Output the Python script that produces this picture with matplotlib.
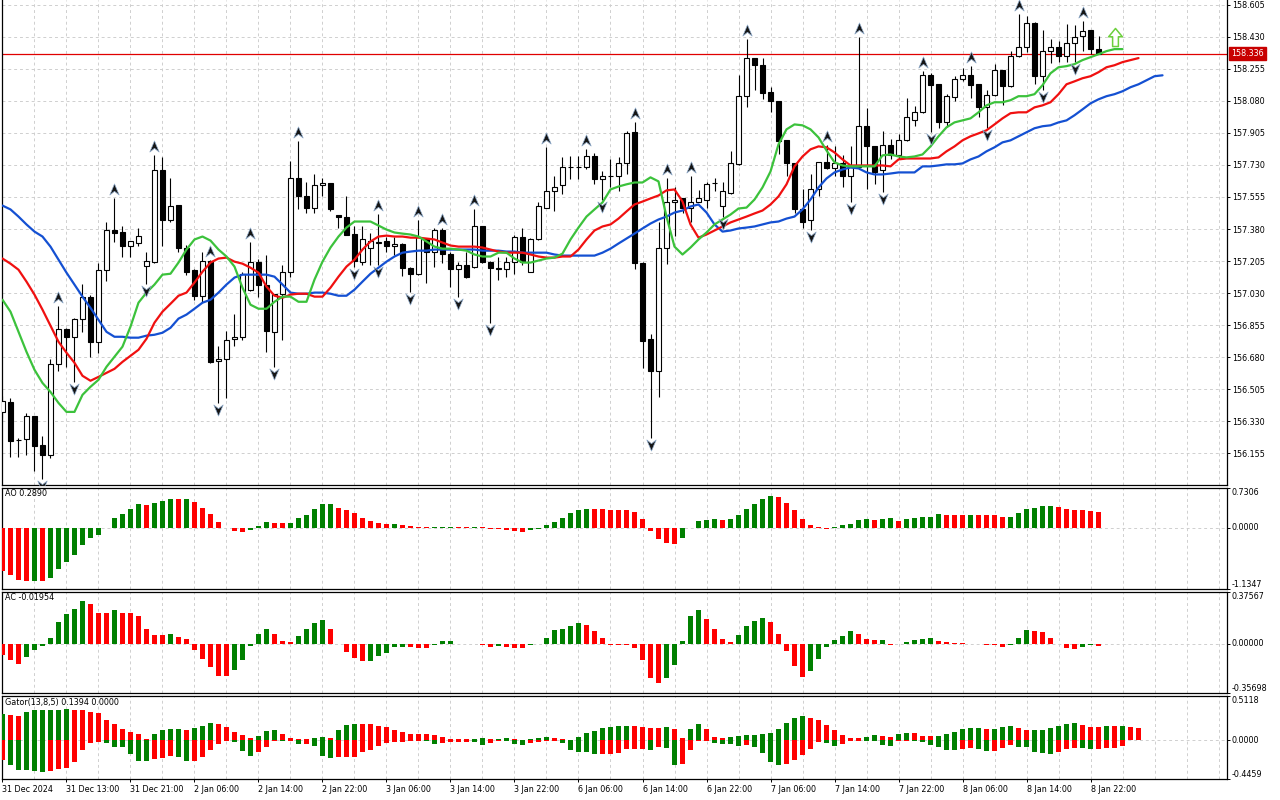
import numpy as np
import matplotlib
matplotlib.use("Agg")
import matplotlib.pyplot as plt
from matplotlib.path import Path
from matplotlib.transforms import offset_copy

plt.rcParams['font.family'] = ['DejaVu Sans']

# ---------------- data (H1 candles) ----------------
opens = [156.382, 156.436, 156.229, 156.234, 156.360, 156.201, 156.147, 156.644, 156.836, 156.792,
         156.891, 157.011, 156.765, 157.158, 157.372, 157.366, 157.290, 157.306, 157.180, 157.202,
         157.700, 157.432, 157.509, 157.279, 157.158, 157.016, 157.208, 156.661, 156.672, 156.781,
         156.792, 157.049, 157.202, 157.077, 156.819, 157.027, 157.147, 157.661, 157.563, 157.497,
         157.618, 157.629, 157.454, 157.443, 157.355, 157.202, 157.279, 157.306, 157.312, 157.285,
         157.301, 157.169, 157.136, 157.328, 157.252, 157.372, 157.246, 157.164, 157.186, 157.175,
         157.394, 157.202, 157.169, 157.164, 157.202, 157.339, 157.147, 157.323, 157.497, 157.585,
         157.618, 157.716, 157.718, 157.716, 157.776, 157.651, 157.667, 157.667, 157.738, 157.908,
         157.197, 156.781, 156.607, 157.279, 157.525, 157.547, 157.497, 157.530, 157.541, 157.629,
         157.503, 157.574, 157.733, 158.105, 158.313, 158.274, 158.126, 158.077, 157.864, 157.738,
         157.487, 157.427, 157.601, 157.744, 157.711, 157.738, 157.667, 157.716, 157.941, 157.831,
         157.700, 157.837, 157.782, 157.864, 157.973, 158.017, 158.219, 158.170, 157.962, 158.099,
         158.197, 158.219, 158.170, 158.044, 158.110, 158.247, 158.159, 158.323, 158.373, 158.504,
         158.214, 158.351, 158.373, 158.323, 158.394, 158.433, 158.465, 158.362]
highs = [156.469, 156.458, 156.239, 156.377, 156.362, 156.250, 156.672, 156.961, 156.840, 156.893,
         157.082, 157.020, 157.197, 157.421, 157.552, 157.394, 157.314, 157.383, 157.257, 157.782,
         157.771, 157.661, 157.510, 157.295, 157.160, 157.257, 157.210, 156.743, 156.825, 156.918,
         157.147, 157.307, 157.219, 157.241, 157.027, 157.186, 157.749, 157.858, 157.635, 157.678,
         157.656, 157.632, 157.456, 157.563, 157.394, 157.399, 157.361, 157.460, 157.339, 157.334,
         157.303, 157.171, 157.427, 157.330, 157.388, 157.388, 157.257, 157.202, 157.252, 157.492,
         157.396, 157.204, 157.230, 157.230, 157.350, 157.388, 157.330, 157.530, 157.826, 157.667,
         157.771, 157.776, 157.776, 157.815, 157.793, 157.694, 157.760, 157.771, 157.913, 157.962,
         157.202, 156.808, 157.421, 157.656, 157.607, 157.549, 157.667, 157.591, 157.634, 157.661,
         157.634, 157.804, 158.219, 158.416, 158.313, 158.313, 158.154, 158.079, 157.866, 157.740,
         157.596, 157.678, 157.746, 157.837, 157.831, 157.782, 157.831, 158.427, 158.039, 157.833,
         157.913, 157.869, 157.897, 158.094, 158.050, 158.241, 158.230, 158.172, 158.116, 158.214,
         158.258, 158.269, 158.172, 158.137, 158.280, 158.249, 158.351, 158.553, 158.542, 158.509,
         158.465, 158.416, 158.405, 158.498, 158.493, 158.515, 158.467, 158.433]
lows = [156.349, 156.136, 156.136, 156.147, 156.060, 156.015, 156.130, 156.607, 156.628, 156.546,
        156.819, 156.683, 156.705, 157.099, 157.307, 157.230, 157.230, 157.290, 157.082, 157.197,
        157.285, 157.416, 157.257, 157.131, 156.994, 156.983, 156.650, 156.431, 156.458, 156.743,
        156.776, 157.044, 157.011, 156.710, 156.628, 156.776, 157.120, 157.487, 157.465, 157.470,
        157.563, 157.481, 157.388, 157.345, 157.175, 157.186, 157.186, 157.186, 157.252, 157.241,
        157.126, 157.038, 157.131, 157.088, 157.175, 157.197, 157.066, 157.011, 157.115, 157.169,
        157.197, 156.869, 157.104, 157.120, 157.136, 157.186, 157.145, 157.320, 157.495, 157.476,
        157.569, 157.651, 157.651, 157.705, 157.624, 157.541, 157.607, 157.585, 157.683, 157.164,
        156.623, 156.240, 156.464, 157.191, 157.344, 157.470, 157.416, 157.525, 157.497, 157.585,
        157.448, 157.569, 157.727, 158.044, 158.137, 158.088, 158.017, 157.787, 157.672, 157.470,
        157.388, 157.372, 157.558, 157.708, 157.667, 157.612, 157.530, 157.714, 157.601, 157.624,
        157.580, 157.760, 157.760, 157.862, 157.941, 158.012, 157.908, 157.930, 157.935, 158.077,
        158.186, 158.094, 157.990, 157.930, 158.105, 158.055, 158.154, 158.318, 158.345, 158.170,
        158.137, 158.285, 158.291, 158.291, 158.291, 158.351, 158.334, 158.334]
closes = [156.442, 156.224, 156.230, 156.360, 156.196, 156.147, 156.644, 156.836, 156.792, 156.891,
          157.011, 156.765, 157.158, 157.372, 157.361, 157.290, 157.312, 157.344, 157.208, 157.700,
          157.432, 157.503, 157.279, 157.147, 157.016, 157.208, 156.655, 156.672, 156.776, 156.792,
          157.136, 157.202, 157.077, 156.825, 157.027, 157.147, 157.661, 157.558, 157.497, 157.618,
          157.629, 157.487, 157.443, 157.350, 157.208, 157.323, 157.312, 157.307, 157.285, 157.301,
          157.169, 157.136, 157.339, 157.252, 157.372, 157.246, 157.164, 157.186, 157.120, 157.394,
          157.202, 157.169, 157.164, 157.202, 157.339, 157.202, 157.328, 157.503, 157.585, 157.612,
          157.716, 157.718, 157.716, 157.776, 157.651, 157.667, 157.668, 157.738, 157.902, 157.197,
          156.770, 156.607, 157.279, 157.530, 157.541, 157.497, 157.530, 157.547, 157.624, 157.630,
          157.585, 157.738, 158.105, 158.313, 158.274, 158.121, 158.077, 157.858, 157.738, 157.487,
          157.421, 157.601, 157.744, 157.711, 157.738, 157.667, 157.716, 157.941, 157.831, 157.689,
          157.837, 157.782, 157.864, 157.990, 158.017, 158.219, 158.165, 157.962, 158.105, 158.197,
          158.219, 158.165, 158.044, 158.110, 158.247, 158.159, 158.323, 158.373, 158.504, 158.214,
          158.351, 158.373, 158.323, 158.394, 158.427, 158.460, 158.362, 158.336]

# Alligator lines (already shifted as drawn: jaw +8, teeth +5, lips +3 bars)
jaw = [157.508, 157.487, 157.448, 157.405, 157.366, 157.339, 157.284, 157.213, 157.142, 157.077,
       157.011, 156.950, 156.885, 156.819, 156.792, 156.792, 156.787, 156.787, 156.798, 156.803,
       156.814, 156.841, 156.891, 156.913, 156.945, 156.978, 156.994, 157.033, 157.077, 157.115,
       157.131, 157.131, 157.131, 157.131, 157.120, 157.077, 157.033, 157.027, 157.027, 157.033,
       157.033, 157.027, 157.016, 157.016, 157.049, 157.093, 157.136, 157.169, 157.202, 157.230,
       157.251, 157.257, 157.262, 157.262, 157.268, 157.268, 157.268, 157.268, 157.268, 157.268,
       157.262, 157.262, 157.262, 157.257, 157.257, 157.251, 157.251, 157.251, 157.251, 157.241,
       157.235, 157.235, 157.235, 157.235, 157.235, 157.251, 157.273, 157.301, 157.328, 157.355,
       157.383, 157.410, 157.432, 157.448, 157.470, 157.481, 157.503, 157.514, 157.470, 157.405,
       157.366, 157.372, 157.383, 157.388, 157.394, 157.405, 157.416, 157.421, 157.437, 157.448,
       157.487, 157.541, 157.607, 157.656, 157.689, 157.705, 157.716, 157.711, 157.689, 157.678,
       157.678, 157.683, 157.689, 157.689, 157.689, 157.722, 157.722, 157.727, 157.733, 157.733,
       157.738, 157.760, 157.776, 157.804, 157.826, 157.853, 157.864, 157.886, 157.908, 157.930,
       157.941, 157.946, 157.962, 157.973, 158.001, 158.033, 158.066, 158.088, 158.105, 158.116,
       158.132, 158.154, 158.170, 158.192, 158.214, 158.219]
teeth = [157.219, 157.191, 157.158, 157.093, 157.022, 156.940, 156.852, 156.765, 156.705, 156.650,
         156.579, 156.552, 156.573, 156.595, 156.617, 156.655, 156.688, 156.721, 156.781, 156.869,
         156.929, 156.972, 157.016, 157.033, 157.088, 157.147, 157.197, 157.219, 157.224, 157.202,
         157.191, 157.169, 157.142, 157.066, 157.016, 157.005, 157.022, 157.027, 157.027, 157.011,
         157.011, 157.060, 157.120, 157.175, 157.213, 157.268, 157.312, 157.339, 157.344, 157.339,
         157.339, 157.333, 157.333, 157.328, 157.323, 157.306, 157.290, 157.284, 157.284, 157.284,
         157.279, 157.268, 157.257, 157.251, 157.251, 157.251, 157.241, 157.230, 157.224, 157.224,
         157.230, 157.230, 157.268, 157.323, 157.372, 157.394, 157.405, 157.437, 157.476, 157.514,
         157.530, 157.547, 157.563, 157.591, 157.596, 157.530, 157.405, 157.333, 157.350, 157.372,
         157.394, 157.416, 157.432, 157.448, 157.465, 157.481, 157.514, 157.558, 157.624, 157.722,
         157.776, 157.815, 157.831, 157.826, 157.798, 157.760, 157.727, 157.727, 157.727, 157.727,
         157.727, 157.722, 157.760, 157.765, 157.765, 157.765, 157.765, 157.771, 157.804, 157.831,
         157.864, 157.886, 157.902, 157.919, 157.951, 157.984, 158.012, 158.017, 158.017, 158.044,
         158.055, 158.072, 158.116, 158.170, 158.186, 158.203, 158.214, 158.236, 158.263, 158.274,
         158.291, 158.302, 158.313]
lips = [156.994, 156.929, 156.819, 156.710, 156.612, 156.540, 156.491, 156.431, 156.382, 156.382,
        156.475, 156.519, 156.557, 156.628, 156.683, 156.738, 156.847, 156.978, 157.033, 157.077,
        157.131, 157.136, 157.197, 157.268, 157.323, 157.339, 157.317, 157.268, 157.230, 157.175,
        157.060, 156.967, 156.945, 156.945, 156.983, 157.011, 157.011, 156.983, 156.983, 157.104,
        157.202, 157.279, 157.339, 157.388, 157.421, 157.421, 157.421, 157.399, 157.377, 157.361,
        157.355, 157.350, 157.339, 157.312, 157.284, 157.273, 157.273, 157.268, 157.262, 157.241,
        157.230, 157.230, 157.251, 157.251, 157.219, 157.197, 157.197, 157.208, 157.219, 157.224,
        157.246, 157.323, 157.388, 157.448, 157.487, 157.525, 157.596, 157.612, 157.624, 157.634,
        157.634, 157.662, 157.640, 157.448, 157.284, 157.241, 157.279, 157.323, 157.361, 157.405,
        157.432, 157.459, 157.492, 157.497, 157.541, 157.607, 157.694, 157.842, 157.924, 157.951,
        157.946, 157.924, 157.880, 157.809, 157.744, 157.727, 157.722, 157.722, 157.722, 157.722,
        157.782, 157.787, 157.776, 157.771, 157.776, 157.787, 157.831, 157.886, 157.935, 157.962,
        157.973, 157.984, 158.017, 158.055, 158.072, 158.072, 158.083, 158.105, 158.105, 158.116,
        158.165, 158.230, 158.263, 158.269, 158.280, 158.302, 158.318, 158.334, 158.351, 158.362,
        158.362]

fractal_up = [7, 14, 19, 26, 31, 37, 47, 52, 55, 59, 68, 73, 79, 83, 86, 93, 103, 107, 115, 121, 127, 135]
fractal_down = [5, 9, 18, 27, 34, 44, 47, 51, 57, 61, 75, 81, 90, 101, 106, 110, 116, 123, 130, 134]

last_price = 158.336
signal_bar = 139
signal_price = 158.427

ao = [-0.80, -0.87, -0.97, -0.99, -0.985, -0.99, -0.93, -0.76, -0.63, -0.51,
      -0.33, -0.19, -0.14, -0.006, 0.17, 0.25, 0.34, 0.43, 0.425, 0.45,
      0.49, 0.53, 0.528, 0.532, 0.47, 0.37, 0.25, 0.10, -0.005, -0.06,
      -0.08, -0.04, 0.03, 0.10, 0.09, 0.08, 0.085, 0.17, 0.23, 0.34,
      0.43, 0.435, 0.36, 0.33, 0.26, 0.18, 0.12, 0.08, 0.06, 0.062,
      0.04, 0.025, 0.015, 0.005, 0.008, 0.012, 0.018, 0.008, 0.005, 0.007,
      0.003, -0.025, -0.03, -0.05, -0.065, -0.09, -0.05, -0.025, 0.055, 0.10,
      0.17, 0.26, 0.32, 0.35, 0.34, 0.335, 0.33, 0.32, 0.318, 0.29,
      0.16, -0.06, -0.21, -0.28, -0.31, -0.19, -0.006, 0.12, 0.14, 0.15,
      0.148, 0.155, 0.23, 0.34, 0.43, 0.52, 0.58, 0.56, 0.45, 0.32,
      0.15, 0.04, 0.003, -0.02, 0.003, 0.04, 0.06, 0.135, 0.16, 0.14,
      0.15, 0.17, 0.12, 0.15, 0.17, 0.19, 0.20, 0.245, 0.24, 0.238,
      0.236, 0.240, 0.237, 0.23, 0.225, 0.19, 0.195, 0.26, 0.34, 0.37,
      0.39, 0.395, 0.375, 0.34, 0.32, 0.318, 0.30, 0.289]
ao_before = -0.75

ac = [-0.079, -0.12, -0.144, -0.098, -0.048, -0.019, 0.041, 0.16, 0.215, 0.249,
      0.309, 0.287, 0.225, 0.224, 0.244, 0.225, 0.22, 0.20, 0.108, 0.065,
      0.064, 0.072, 0.048, 0.036, -0.048, -0.11, -0.17, -0.235, -0.236, -0.187,
      -0.12, -0.019, 0.072, 0.108, 0.072, 0.022, 0.015, 0.057, 0.108, 0.153,
      0.172, 0.108, -0.005, -0.06, -0.10, -0.127, -0.125, -0.09, -0.067, -0.024,
      -0.02, -0.026, -0.027, -0.028, -0.012, 0.017, 0.022, 0.0, -0.002, -0.003,
      -0.01, -0.024, -0.018, -0.021, -0.03, -0.032, -0.01, 0.0, 0.04, 0.10,
      0.108, 0.13, 0.153, 0.136, 0.096, 0.04, -0.007, -0.01, -0.012, -0.03,
      -0.12, -0.25, -0.285, -0.245, -0.155, 0.02, 0.20, 0.244, 0.18, 0.108,
      0.036, 0.015, 0.065, 0.13, 0.165, 0.184, 0.16, 0.072, -0.055, -0.163,
      -0.242, -0.2, -0.11, -0.026, 0.029, 0.057, 0.096, 0.072, 0.034, 0.025,
      0.03, -0.01, 0.0, 0.01, 0.03, 0.035, 0.045, 0.02, 0.015, 0.008,
      0.006, 0.002, -0.002, -0.006, -0.01, -0.025, -0.007, 0.04, 0.1, 0.093,
      0.085, 0.04, -0.002, -0.03, -0.04, -0.025, -0.007, -0.01954]
ac_before = -0.06

gator_up = [0.304, 0.292, 0.280, 0.323, 0.350, 0.352, 0.354, 0.356, 0.357, 0.355,
            0.345, 0.330, 0.313, 0.237, 0.187, 0.136, 0.101, 0.070, 0.012, 0.070,
            0.117, 0.128, 0.129, 0.117, 0.140, 0.163, 0.198, 0.187, 0.152, 0.093,
            0.058, 0.023, 0.047, 0.105, 0.117, 0.070, 0.023, 0.012, 0.011, 0.023,
            0.035, 0.023, 0.117, 0.175, 0.187, 0.186, 0.185, 0.163, 0.152, 0.117,
            0.093, 0.070, 0.069, 0.068, 0.058, 0.035, 0.012, 0.011, 0.010, 0.011,
            0.023, 0.012, 0.013, 0.023, 0.012, 0.002, 0.010, 0.023, 0.035, 0.023,
            0.012, 0.005, 0.035, 0.082, 0.105, 0.140, 0.152, 0.163, 0.164, 0.163,
            0.152, 0.140, 0.139, 0.152, 0.128, 0.023, 0.128, 0.187, 0.128, 0.035,
            0.023, 0.035, 0.047, 0.058, 0.059, 0.070, 0.082, 0.128, 0.198, 0.257,
            0.280, 0.257, 0.234, 0.175, 0.117, 0.058, 0.023, 0.022, 0.035, 0.058,
            0.047, 0.035, 0.070, 0.082, 0.081, 0.047, 0.046, 0.048, 0.070, 0.093,
            0.128, 0.140, 0.141, 0.128, 0.129, 0.152, 0.163, 0.140, 0.117, 0.118,
            0.119, 0.140, 0.163, 0.187, 0.198, 0.175, 0.152, 0.151, 0.163, 0.162,
            0.163, 0.152, 0.1394]
gator_down = [0.222, 0.280, 0.339, 0.341, 0.350, 0.370, 0.350, 0.327, 0.319, 0.253,
              0.117, 0.035, 0.019, 0.035, 0.074, 0.078, 0.163, 0.241, 0.242, 0.214,
              0.202, 0.175, 0.195, 0.241, 0.240, 0.195, 0.113, 0.047, 0.008, 0.019,
              0.125, 0.183, 0.136, 0.078, 0.006, 0.008, 0.004, 0.043, 0.042, 0.066,
              0.183, 0.206, 0.195, 0.194, 0.187, 0.136, 0.113, 0.066, 0.031, 0.019,
              0.018, 0.005, 0.004, 0.008, 0.043, 0.031, 0.019, 0.018, 0.017, 0.019,
              0.055, 0.031, 0.008, 0.009, 0.043, 0.055, 0.031, 0.019, 0.008, 0.003,
              0.031, 0.113, 0.136, 0.137, 0.160, 0.159, 0.158, 0.148, 0.101, 0.100,
              0.099, 0.113, 0.078, 0.090, 0.288, 0.276, 0.113, 0.008, 0.003, 0.031,
              0.043, 0.044, 0.066, 0.055, 0.078, 0.148, 0.253, 0.288, 0.276, 0.230,
              0.171, 0.101, 0.019, 0.031, 0.066, 0.043, 0.003, 0.002, 0.003, 0.004,
              0.055, 0.066, 0.006, 0.005, 0.008, 0.019, 0.055, 0.078, 0.113, 0.114,
              0.101, 0.090, 0.102, 0.125, 0.124, 0.090, 0.055, 0.078, 0.079, 0.136,
              0.148, 0.160, 0.136, 0.101, 0.090, 0.091, 0.101, 0.100, 0.090, 0.089,
              0.066]
gator_up_before = 0.29
gator_down_before = 0.24

price_ticks = [158.605, 158.430, 158.255, 158.080, 157.905, 157.730, 157.555, 157.380,
               157.205, 157.030, 156.855, 156.680, 156.505, 156.330, 156.155]
price_range = (155.983, 158.630)
ao_range = (-1.1347, 0.7306)
ac_range = (-0.35698, 0.37567)
gator_range = (-0.4459, 0.5118)

time_labels = ["31 Dec 2024", "31 Dec 13:00", "31 Dec 21:00", "2 Jan 06:00", "2 Jan 14:00",
               "2 Jan 22:00", "3 Jan 06:00", "3 Jan 14:00", "3 Jan 22:00", "6 Jan 06:00",
               "6 Jan 14:00", "6 Jan 22:00", "7 Jan 06:00", "7 Jan 14:00", "7 Jan 22:00",
               "8 Jan 06:00", "8 Jan 14:00", "8 Jan 22:00"]
label_step = 8
grid_step = 4
slots = 153.06

# ---------------- style ----------------
FS = 5.8
GRID = '#cfcfcf'
GREEN = '#008000'
RED = '#ff0000'
JAW_C = '#1450d2'
TEETH_C = '#f01010'
LIPS_C = '#3cc23c'
PX = 0.72  # one pixel in points at 100 dpi

W, H = 1280, 800
fig = plt.figure(figsize=(W / 100, H / 100), dpi=100)
fig.patch.set_facecolor('white')


def panel(top, bottom, left=2, right=1227):
    ax = fig.add_axes([left / W, 1 - bottom / H, (right - left) / W, (bottom - top) / H])
    ax.set_xlim(-0.06, slots)
    ax.set_facecolor('white')
    for s in ax.spines.values():
        s.set_linewidth(0.9)
        s.set_color('black')
    ax.set_xticks(np.arange(0, slots, grid_step))
    ax.tick_params(axis='x', which='major', length=0, labelbottom=False)
    ax.grid(axis='x', which='major', color=GRID, ls=(0, (3, 3)), lw=0.7)
    ax.set_axisbelow(True)
    return ax


ax = panel(0, 485)
ax_ao = panel(488, 589)
ax_ac = panel(592, 693)
ax_gt = panel(696, 779)

n = len(opens)
x = np.arange(n)
o = np.array(opens); h = np.array(highs); l = np.array(lows); c = np.array(closes)

# ---------------- main chart ----------------
ax.spines['top'].set_visible(False)
ax.set_ylim(*price_range)
ax.set_yticks(price_ticks)
ax.set_yticklabels([f"{v:.3f}" for v in price_ticks])
ax.yaxis.tick_right()
ax.tick_params(axis='y', length=3 * PX, width=0.7, labelsize=FS, pad=2.5 * PX)
ax.grid(axis='y', which='major', color=GRID, ls=(0, (3, 3)), lw=0.7)

ax.axhline(last_price, color='#e00000', lw=0.9, zorder=2)
ax.vlines(x, l, h, color='black', lw=0.8, zorder=3)
bull = c >= o
ax.bar(x, np.abs(c - o), bottom=np.minimum(o, c), width=0.6,
       color=np.where(bull, 'white', 'black'), edgecolor='black', linewidth=0.8, zorder=4)

ax.plot(np.arange(len(jaw)), jaw, color=JAW_C, lw=1.6, zorder=5, solid_capstyle='round')
ax.plot(np.arange(len(teeth)), teeth, color=TEETH_C, lw=1.6, zorder=5, solid_capstyle='round')
ax.plot(np.arange(len(lips)), lips, color=LIPS_C, lw=1.6, zorder=5, solid_capstyle='round')

up_path = Path([(0, 0.5), (0.42, -0.5), (0, -0.16), (-0.42, -0.5), (0, 0.5)],
               [Path.MOVETO, Path.LINETO, Path.LINETO, Path.LINETO, Path.CLOSEPOLY])
down_path = Path([(0, -0.5), (0.42, 0.5), (0, 0.16), (-0.42, 0.5), (0, -0.5)],
                 [Path.MOVETO, Path.LINETO, Path.LINETO, Path.LINETO, Path.CLOSEPOLY])
tr_up = offset_copy(ax.transData, fig=fig, x=0, y=9 * PX, units='points')
tr_dn = offset_copy(ax.transData, fig=fig, x=0, y=-7 * PX, units='points')
ax.plot(fractal_up, h[fractal_up], ls='none', marker=up_path, ms=8, mfc='#151515',
        mec='#8da9c9', mew=0.5, transform=tr_up, zorder=6)
ax.plot(fractal_down, l[fractal_down], ls='none', marker=down_path, ms=8, mfc='#151515',
        mec='#8da9c9', mew=0.5, transform=tr_dn, zorder=6)

sig_path = Path([(0, 0.5), (0.38, 0.04), (0.16, 0.04), (0.16, -0.5), (-0.16, -0.5),
                 (-0.16, 0.04), (-0.38, 0.04), (0, 0.5)],
                [Path.MOVETO] + [Path.LINETO] * 6 + [Path.CLOSEPOLY])
ax.plot([signal_bar], [signal_price], ls='none', marker=sig_path, ms=13, mfc='white',
        mec='#6ccf3c', mew=1.1, zorder=6)

ax.annotate(f"{last_price:.3f}", xy=(1, last_price), xycoords=('axes fraction', 'data'),
            xytext=(4.5 * PX, 0), textcoords='offset points', ha='left', va='center',
            color='white', fontsize=FS, annotation_clip=False,
            bbox=dict(boxstyle='square,pad=0.25', fc='#c80000', ec='#c80000'))


# ---------------- indicator helpers ----------------
def colors_from(values, before):
    prev = before
    out = []
    for v in values:
        out.append(GREEN if v > prev else RED)
        prev = v
    return out


def right_scale(a, rng, fmt):
    lo, hi = rng
    a.set_ylim(lo, hi)
    a.set_yticks([lo, 0.0, hi])
    a.yaxis.tick_right()
    a.tick_params(axis='y', length=3 * PX, width=0.7, labelright=False)
    a.grid(axis='y', which='major', color=GRID, ls=(0, (3, 3)), lw=0.7)
    for val, va in [(hi, 'top'), (0.0, 'center'), (lo, 'bottom')]:
        a.annotate(fmt.format(val), xy=(1, val), xycoords=('axes fraction', 'data'),
                   xytext=(4.5 * PX, 0), textcoords='offset points', ha='left', va=va,
                   fontsize=FS, annotation_clip=False)


def title(a, text):
    a.annotate(text, xy=(0, 1), xycoords='axes fraction', xytext=(3 * PX, -1.5 * PX),
               textcoords='offset points', ha='left', va='top', fontsize=FS)


# AO
right_scale(ax_ao, ao_range, "{:.4f}")
ax_ao.bar(np.arange(len(ao)), ao, width=0.6, color=colors_from(ao, ao_before), zorder=3)
title(ax_ao, f"AO {ao[-1]:.4f}")

# AC
right_scale(ax_ac, ac_range, "{:.5f}")
ax_ac.bar(np.arange(len(ac)), ac, width=0.6, color=colors_from(ac, ac_before), zorder=3)
title(ax_ac, f"AC {ac[-1]:.5f}")

# Gator
right_scale(ax_gt, gator_range, "{:.4f}")
gu = np.array(gator_up)
gd = np.array(gator_down)
ax_gt.bar(np.arange(len(gu)), gu, width=0.6, color=colors_from(gu, gator_up_before), zorder=3)
ax_gt.bar(np.arange(len(gd)), -gd, width=0.6, color=colors_from(gd, gator_down_before), zorder=3)
title(ax_gt, f"Gator(13,8,5) {gator_up[-1]:.4f} {0.0:.4f}")

ax_gt.xaxis.remove_overlapping_locs = False
ax_gt.set_xticks(np.arange(0, n, label_step), minor=True)
ax_gt.set_xticklabels(time_labels, minor=True, fontsize=FS, ha='left')
ax_gt.tick_params(axis='x', which='minor', length=3 * PX, width=0.7, pad=2.5 * PX,
                  labelbottom=True)

fig.savefig("out.png", dpi=100, facecolor='white')
